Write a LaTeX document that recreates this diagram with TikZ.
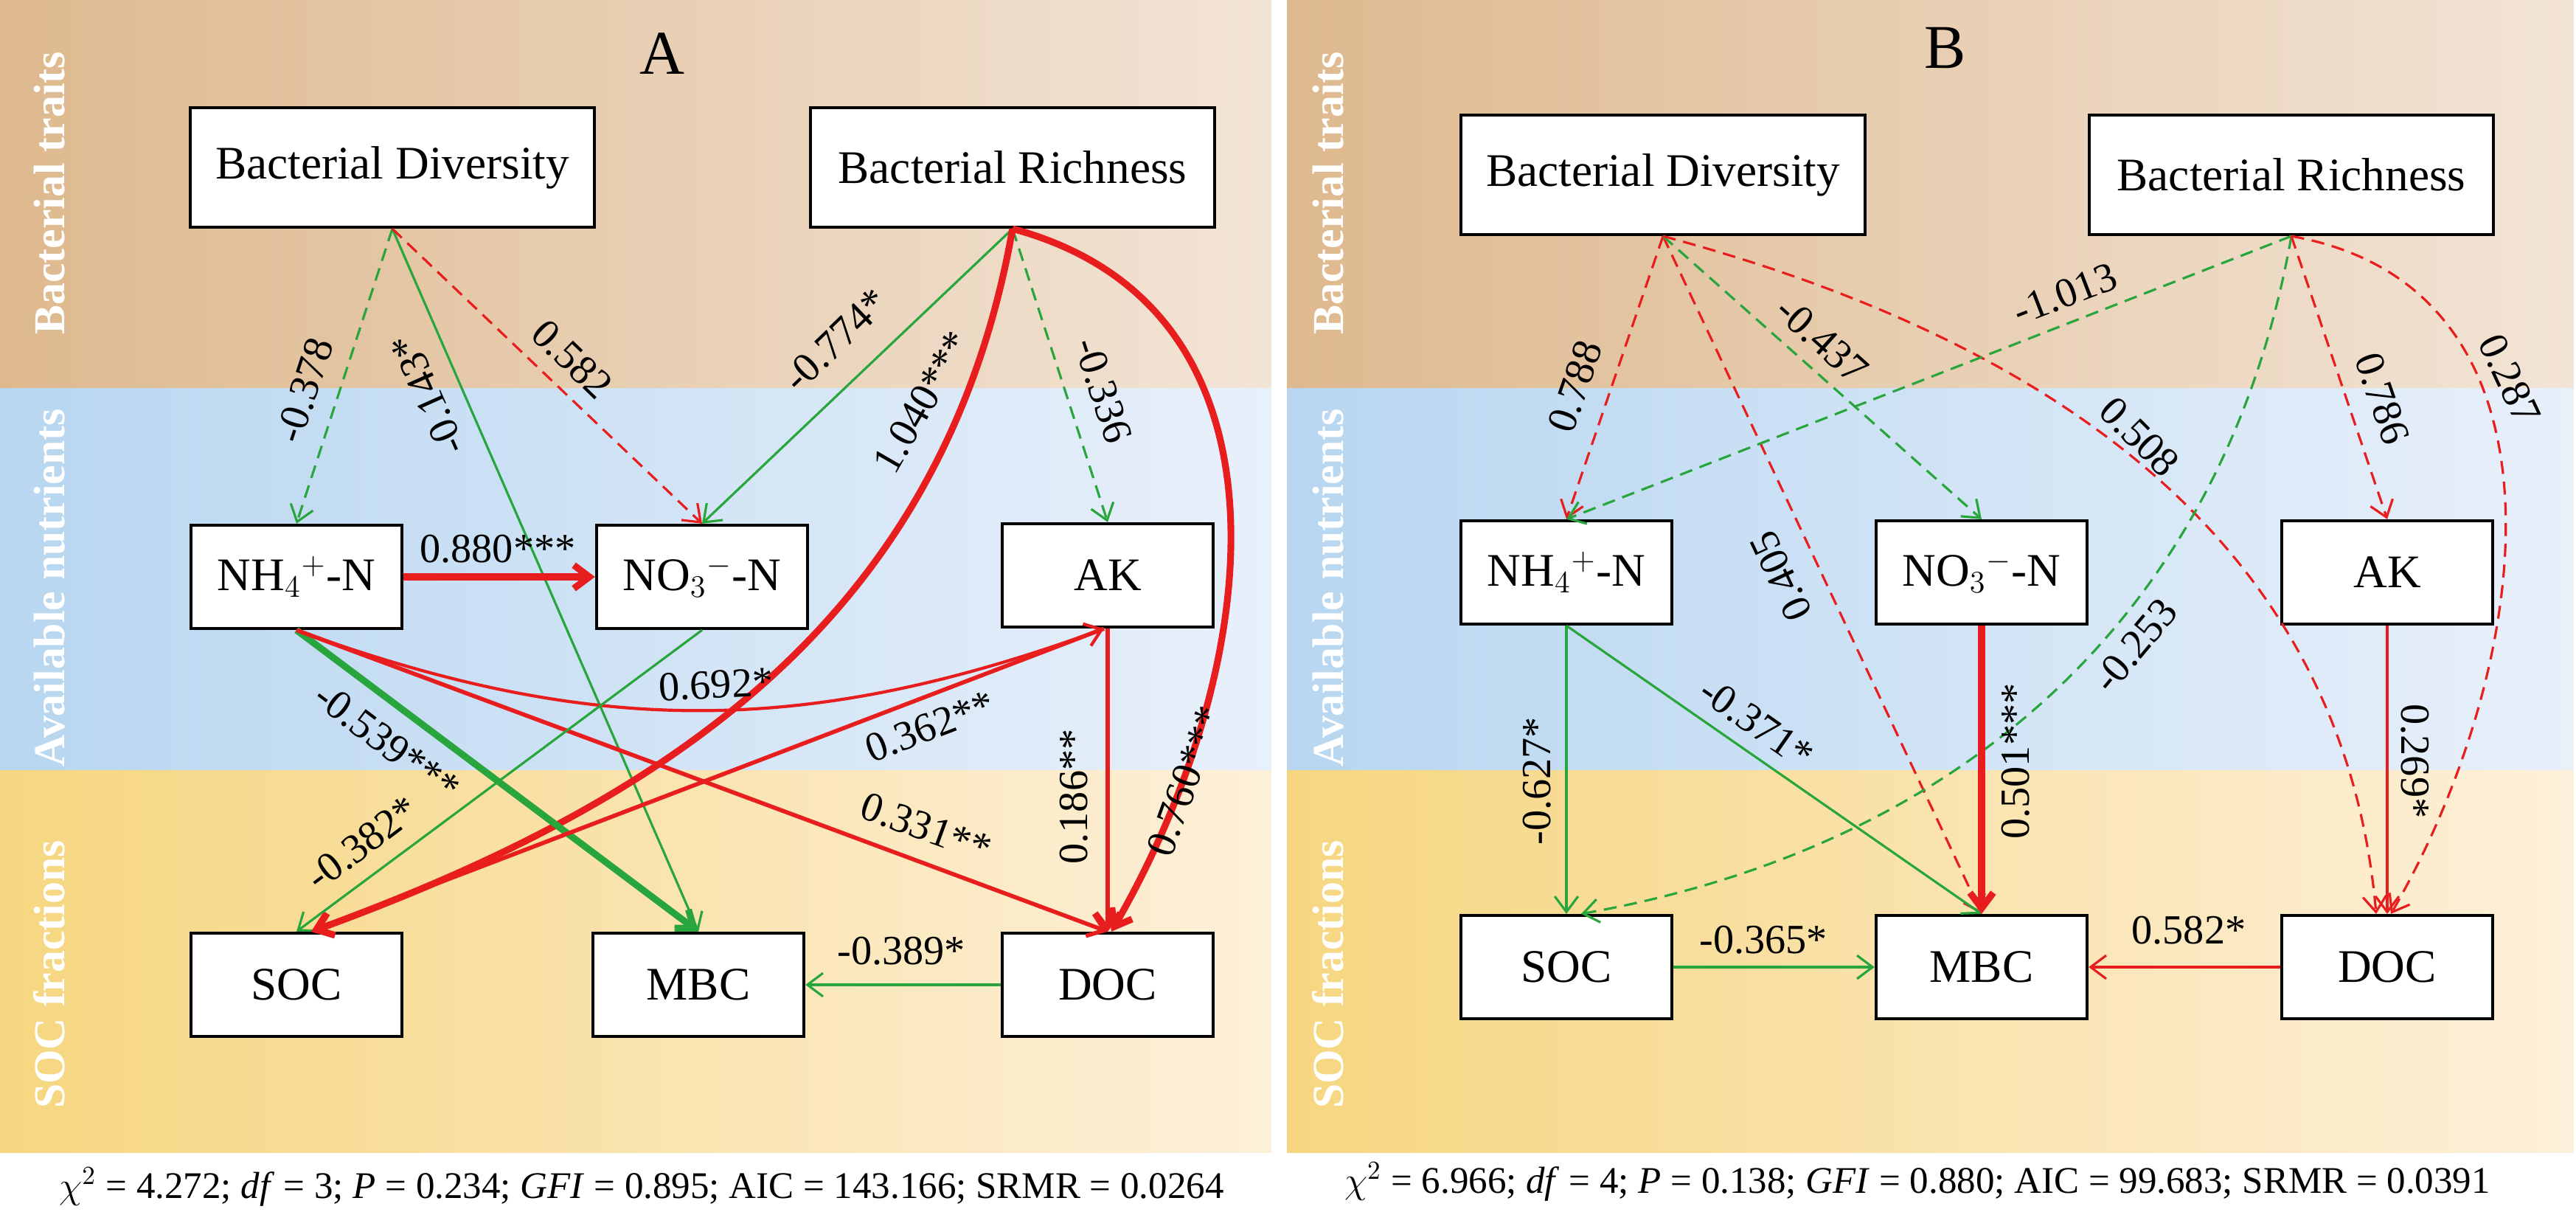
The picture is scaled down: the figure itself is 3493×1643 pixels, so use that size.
\documentclass[tikz,border=0pt]{standalone}
\usepackage{fontspec}
\setmainfont{Liberation Serif}
\usetikzlibrary{arrows.meta,calc}
\definecolor{PathGreen}{RGB}{40,165,60}
\definecolor{PathRed}{RGB}{232,30,30}
\definecolor{TraitL}{RGB}{222,185,142}
\definecolor{TraitR}{RGB}{242,228,214}
\definecolor{NutrL}{RGB}{184,214,240}
\definecolor{NutrR}{RGB}{232,240,250}
\definecolor{SocL}{RGB}{246,214,128}
\definecolor{SocR}{RGB}{253,240,218}
\tikzset{
  box/.style={draw,line width=1.2pt,fill=white,text=black,font=\fontsize{18}{22}\selectfont},
  big box/.style={box,minimum width=5.47cm,minimum height=1.62cm},
  sml box/.style={box,minimum width=2.86cm,minimum height=1.4cm},
  coef/.style={font=\fontsize{16}{19}\selectfont,text=black,inner sep=1pt},
  plus/.style={PathRed,line width=0.9pt},
  minus/.style={PathGreen,line width=0.9pt},
  dsh/.style={dash pattern=on 5pt off 3pt},
  medium/.style={line width=1.6pt},
  fat/.style={line width=2.6pt},
  band/.style={font=\bfseries\fontsize{17}{20}\selectfont,text=white,rotate=90},
  fit stat/.style={font=\fontsize{14.5}{18}\selectfont,inner sep=0pt},
}
\begin{document}
\begin{tikzpicture}[x=0.01cm,y=-0.01cm,->,>={Straight Barb[length=6pt,width=9pt]}]
    \useasboundingbox (0,0) rectangle (3493,1643);
    % background bands of both panels
    \foreach \xl/\xr in {0/1724, 1745/3490}{
        \shade[left color=TraitL,right color=TraitR] (\xl,0) rectangle (\xr,527);
        \shade[left color=NutrL,right color=NutrR] (\xl,527) rectangle (\xr,1044);
        \shade[left color=SocL,right color=SocR] (\xl,1044) rectangle (\xr,1562);
    }
    \foreach \xs[count=\c] in {67, 1801}{
        \node[band] (trait\c) at (\xs,262) {Bacterial traits};
        \node[band] (nutr\c) at (\xs,797) {Available nutrients};
        \node[band] (socf\c) at (\xs,1321) {SOC fractions};
    }
    \node[font=\fontsize{24}{28}\selectfont] (titleA) at (898,73) {A};
    \node[font=\fontsize{24}{28}\selectfont] (titleB) at (2638,65) {B};

    % Panel A nodes
    \node[big box] (bdA) at (532,227) {Bacterial Diversity};
    \node[big box] (brA) at (1373,227) {Bacterial Richness};
    \node[sml box] (nhA) at (402,782) {NH$_4$$^+$-N};
    \node[sml box] (noA) at (952,782) {NO$_3$$^-$-N};
    \node[sml box] (akA) at (1502,780) {AK};
    \node[sml box] (socA) at (402,1335) {SOC};
    \node[sml box] (mbcA) at (947,1335) {MBC};
    \node[sml box] (docA) at (1502,1335) {DOC};

    % Panel A paths
    \draw[minus,dsh] (bdA.south) -- (nhA.north);
    \draw[minus] (bdA.south) -- (mbcA.north);
    \draw[plus,dsh] (bdA.south) -- (noA.north);
    \draw[minus] (brA.south) -- (noA.north);
    \draw[minus,dsh] (brA.south) -- (akA.north);
    \draw[plus,fat] (brA.south) to[out=-100,in=20] ($(socA.north)+(20,0)$);
    \draw[plus,fat] (brA.south) to[out=-15,in=60,looseness=1.1] ($(docA.north)+(5,0)$);
    \draw[plus,fat] (nhA) -- (noA);
    \draw[minus,fat] (nhA.south) -- (mbcA.north);
    \draw[plus,line width=1.2pt] (nhA.south) to[out=-20,in=-160] ($(akA.south)+(-5,0)$);
    \draw[plus,medium] (nhA.south) -- (docA.north);
    \draw[minus] (noA.south) -- (socA.north);
    \draw[plus,medium] ($(akA.south)+(-5,0)$) -- ($(socA.north)+(20,0)$);
    \draw[plus,medium] (akA.south) -- (docA.north);
    \draw[minus] (docA) -- (mbcA);

    % Panel A coefficients
    \foreach \xy/\ang/\txt in {{(413,529)}/72/-0.378, {(580,535)}/114/-0.143*, {(776,487)}/-44/0.582,
        {(1133,461)}/44/-0.774*, {(1250,545)}/60/1.040***, {(1496,529)}/-72/-0.336,
        {(675,744)}/0/0.880***, {(525,1006)}/-37/-0.539***, {(971,928)}/3/0.692*,
        {(1261,985)}/21/0.362**, {(1256,1122)}/-20/0.331**, {(491,1143)}/37/-0.382*,
        {(1456,1080)}/90/0.186**, {(1607,1059)}/70/0.760***, {(1222,1289)}/0/-0.389*}{
        \node[coef,rotate=\ang] at \xy {\txt};
    }

    % Panel B nodes
    \node[big box] (bdB) at (2255,237) {Bacterial Diversity};
    \node[big box] (brB) at (3107,237) {Bacterial Richness};
    \node[sml box] (nhB) at (2124,776) {NH$_4$$^+$-N};
    \node[sml box] (noB) at (2687,776) {NO$_3$$^-$-N};
    \node[sml box] (akB) at (3237,776) {AK};
    \node[sml box] (socB) at (2124,1311) {SOC};
    \node[sml box] (mbcB) at (2687,1311) {MBC};
    \node[sml box] (docB) at (3237,1311) {DOC};

    % Panel B paths
    \draw[plus,dsh] (bdB.south) -- (nhB.north);
    \draw[plus,dsh] (bdB.south) -- (mbcB.north);
    \draw[minus,dsh] (bdB.south) -- (noB.north);
    \draw[plus,dsh] (bdB.south) to[out=-15,in=95] ($(docB.north)+(-15,0)$);
    \draw[minus,dsh] (brB.south) -- (nhB.north);
    \draw[minus,dsh] (brB.south) to[out=-100,in=10] ($(socB.north)+(20,0)$);
    \draw[plus,dsh] (brB.south) -- (akB.north);
    \draw[plus,dsh] (brB.south) to[out=-10,in=60,looseness=1.1] ($(docB.north)+(5,0)$);
    \draw[minus] (nhB.south) -- (socB.north);
    \draw[minus] (nhB.south) -- (mbcB.north);
    \draw[plus,fat] (noB.south) -- (mbcB.north);
    \draw[plus] (akB.south) -- (docB.north);
    \draw[minus] (socB) -- (mbcB);
    \draw[plus] (docB) -- (mbcB);

    % Panel B coefficients
    \foreach \xy/\ang/\txt in {{(2136,524)}/71/0.788, {(2415,781)}/115/0.405, {(2471,461)}/-42/-0.437,
        {(2800,398)}/21/-1.013, {(2901,592)}/-45/0.508, {(3230,540)}/-71/0.786,
        {(3403,514)}/-65/0.287, {(2895,875)}/50/-0.253, {(2084,1059)}/90/-0.627*,
        {(2382,980)}/-35/-0.371*, {(2733,1032)}/90/0.501***, {(3275,1032)}/-90/0.269*,
        {(2391,1274)}/0/-0.365*, {(2968,1261)}/0/0.582*}{
        \node[coef,rotate=\ang] at \xy {\txt};
    }

    % fit statistics
    \node[fit stat] (fitA) at (870,1609) {$\chi^2$ = 4.272; \textit{df} = 3; \textit{P} = 0.234; \textit{GFI} = 0.895; AIC = 143.166; SRMR = 0.0264};
    \node[fit stat] (fitB) at (2600,1602) {$\chi^2$ = 6.966; \textit{df} = 4; \textit{P} = 0.138; \textit{GFI} = 0.880; AIC = 99.683; SRMR = 0.0391};
\end{tikzpicture}
\end{document}
